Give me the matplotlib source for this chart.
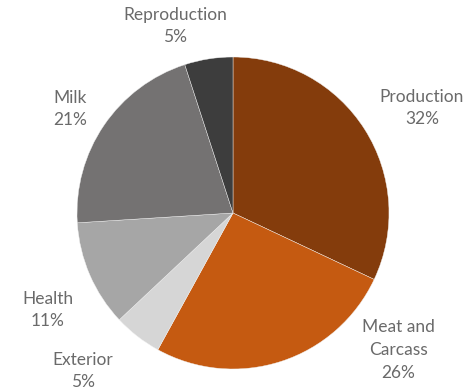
import matplotlib
matplotlib.use("Agg")
import matplotlib.pyplot as plt

categories = ["Production", "Meat and\nCarcass", "Exterior", "Health", "Milk", "Reproduction"]
values = [32, 26, 5, 11, 21, 5]
colors = ["#843C0C", "#C55A11", "#D6D6D6", "#A6A6A6", "#747272", "#3D3D3D"]

W, H = 475, 392
fig = plt.figure(figsize=(W / 100, H / 100), dpi=100)
cx, cy, r = 233, 213, 156
ax = fig.add_axes([(cx - r) / W, (H - cy - r) / H, 2 * r / W, 2 * r / H])
ax.pie(values, colors=colors, startangle=90, counterclock=False,
       radius=1, wedgeprops=dict(linewidth=0.3, edgecolor="#F2F2F2"))
ax.set_xlim(-1, 1)
ax.set_ylim(-1, 1)
ax.set_aspect("equal")
ax.axis("off")

# label centers in pixel coordinates
label_pos = [(422, 108), (398, 350), (83, 371), (48, 310), (70, 109), (175, 26)]
for cat, val, (px, py) in zip(categories, values, label_pos):
    fig.text(px / W, 1 - py / H, f"{cat}\n{val}%", ha="center", va="center",
             fontsize=12.5, family="Lato", color="#6A6A6A", linespacing=1.5)

fig.savefig("out.png", dpi=100, facecolor="white")
